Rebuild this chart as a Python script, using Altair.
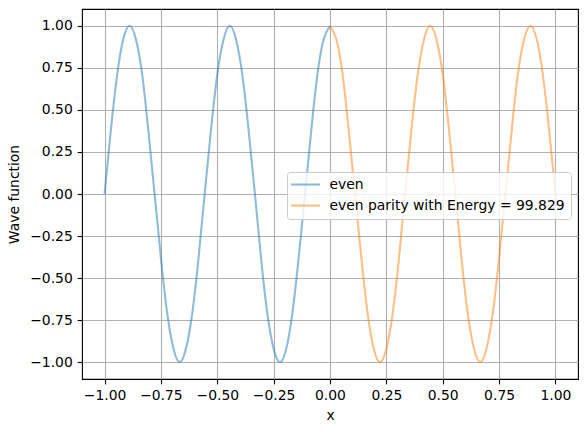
import altair as alt
import pandas as pd

x_even_left = [-1.000, -0.972, -0.944, -0.917, -0.889, -0.861, -0.833, -0.806, -0.778, -0.750,
               -0.722, -0.694, -0.667, -0.639, -0.611, -0.583, -0.556, -0.528, -0.500, -0.472,
               -0.444, -0.417, -0.389, -0.361, -0.333, -0.306, -0.278, -0.250, -0.222, -0.194,
               -0.167, -0.139, -0.111, -0.083, -0.056, -0.028, 0.000]
y_even_left = [0.0, 0.38, 0.71, 0.92, 1.0, 0.92, 0.71, 0.38, 0.0, -0.38,
               -0.71, -0.92, -1.0, -0.92, -0.71, -0.38, 0.0, 0.38, 0.71, 0.92,
               1.0, 0.92, 0.71, 0.38, 0.0, -0.38, -0.71, -0.92, -1.0, -0.92,
               -0.71, -0.38, 0.0, 0.38, 0.71, 0.92, 1.0]
x_even_right = [0.000, 0.028, 0.056, 0.083, 0.111, 0.139, 0.167, 0.194, 0.222, 0.250,
                0.278, 0.306, 0.333, 0.361, 0.389, 0.417, 0.444, 0.472, 0.500, 0.528,
                0.556, 0.583, 0.611, 0.639, 0.667, 0.694, 0.722, 0.750, 0.778, 0.806,
                0.833, 0.861, 0.889, 0.917, 0.944, 0.972, 1.000]
y_even_right = [1.0, 0.92, 0.71, 0.38, 0.0, -0.38, -0.71, -0.92, -1.0, -0.92,
                -0.71, -0.38, 0.0, 0.38, 0.71, 0.92, 1.0, 0.92, 0.71, 0.38,
                0.0, -0.38, -0.71, -0.92, -1.0, -0.92, -0.71, -0.38, 0.0, 0.38,
                0.71, 0.92, 1.0, 0.92, 0.71, 0.38, 0.0]
series_names = ["even", "even parity with Energy = 99.829"]
series_colors = ["#1f77b4", "#ff7f0e"]
tick_vals = [-1.0, -0.75, -0.5, -0.25, 0.0, 0.25, 0.5, 0.75, 1.0]

df = pd.concat([
    pd.DataFrame({"x": x_even_left, "y": y_even_left, "series": series_names[0]}),
    pd.DataFrame({"x": x_even_right, "y": y_even_right, "series": series_names[1]}),
])

font = "DejaVu Sans"
fs = 13.9

chart = alt.Chart(df).mark_line(
    interpolate="natural", strokeWidth=2.08, opacity=0.5
).encode(
    x=alt.X("x:Q", scale=alt.Scale(domain=[-1.1, 1.1], nice=False, zero=False),
            axis=alt.Axis(values=tick_vals, format=".2f", title="x", titlePadding=6)),
    y=alt.Y("y:Q", scale=alt.Scale(domain=[-1.1, 1.1], nice=False, zero=False),
            axis=alt.Axis(values=tick_vals, format=".2f", title="Wave function", titlePadding=8)),
    color=alt.Color("series:N",
                    scale=alt.Scale(domain=series_names, range=series_colors),
                    sort=series_names,
                    legend=alt.Legend(orient="none", legendX=205, legendY=163, title=None,
                                      symbolType="M-2.9,0H2.9", symbolSize=100,
                                      symbolOffset=6,
                                      symbolStrokeWidth=2.08, symbolOpacity=0.5,
                                      labelFont=font, labelFontSize=fs, labelColor="black",
                                      labelOffset=17, labelLimit=400,
                                      fillColor="rgba(255,255,255,0.8)",
                                      strokeColor="#cccccc", cornerRadius=3,
                                      padding=5.6, rowPadding=6)),
    detail="series:N",
).properties(
    width=496, height=370,
    background="white",
    autosize=alt.AutoSizeParams(type="none"),
    padding={"left": 82, "top": 9, "right": 9, "bottom": 53},
).configure_view(
    stroke="black", strokeWidth=1.1
).configure_axis(
    domain=False,
    grid=True, gridColor="#b0b0b0", gridWidth=1.1,
    ticks=True, tickColor="black", tickSize=4.86, tickWidth=1.1,
    labelFont=font, labelFontSize=fs, labelColor="black", labelPadding=4.86,
    titleFont=font, titleFontSize=fs, titleFontWeight="normal", titleColor="black",
)

chart.save("out.html", embed_options={"renderer": "svg", "actions": False})
